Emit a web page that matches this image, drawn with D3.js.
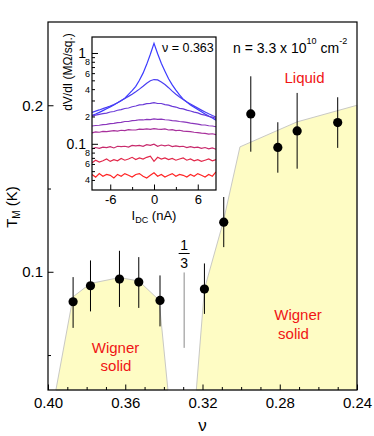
<!DOCTYPE html>
<html>
<head>
<meta charset="utf-8">
<script src="https://cdn.jsdelivr.net/npm/d3@7"></script>
<style>
  body { margin: 0; background: #fff; }
  svg text { font-family: "Liberation Sans", Arial, Helvetica, sans-serif; fill: #000; }
</style>
</head>
<body>
<svg id="chart" width="374" height="436"></svg>
<script>
// ---- main panel: melting temperature vs filling factor
const nu     = [0.387, 0.378, 0.363, 0.353, 0.342, 0.319, 0.309, 0.295, 0.281, 0.271, 0.250];
const tm     = [0.082, 0.0916, 0.0956, 0.0938, 0.0828, 0.0896, 0.1298, 0.1948, 0.1747, 0.1846, 0.1896];
const tmLow  = [0.0663, 0.0762, 0.0789, 0.0783, 0.0672, 0.0747, 0.1148, 0.1721, 0.1595, 0.1619, 0.1744];
const tmHigh = [0.0968, 0.1068, 0.1126, 0.1088, 0.0978, 0.105, 0.1449, 0.2174, 0.1898, 0.2074, 0.2048];

// shaded "Wigner solid" regions (outline points)
const leftSolidNu  = [0.3959, 0.387, 0.378, 0.363, 0.353, 0.3425, 0.3379];
const leftSolidT   = [0.029, 0.085, 0.093, 0.0965, 0.0945, 0.083, 0.029];
const rightSolidNu = [0.3232, 0.319, 0.3093, 0.3006, 0.2711, 0.24, 0.24];
const rightSolidT  = [0.029, 0.0896, 0.1298, 0.175, 0.19, 0.2, 0.029];

const xMajor = [0.40, 0.36, 0.32, 0.28, 0.24];
const xMajorLabels = ["0.40", "0.36", "0.32", "0.28", "0.24"];
const xMinor = [0.39, 0.38, 0.37, 0.35, 0.34, 0.33, 0.31, 0.30, 0.29, 0.27, 0.26, 0.25];
const yMajor = [0.1, 0.2];
const yMajorLabels = ["0.1", "0.2"];
const yMinor = [0.05, 0.15];

// 1/3 marker
const thirdNu = 0.3295;
const thirdT = [0.0543, 0.0996];

// ---- inset: dV/dI vs I_DC at nu = 0.363
const idc = [-8.5, -8, -7.5, -7, -6.5, -6, -5.5, -5, -4.5, -4, -3.5, -3, -2.5, -2, -1.5, -1, -0.5, 0,
             0.5, 1, 1.5, 2, 2.5, 3, 3.5, 4, 4.5, 5, 5.5, 6, 6.5, 7, 7.5, 8, 8.5];
const curve1 = [0.205, 0.213, 0.222, 0.232, 0.243, 0.255, 0.268, 0.283, 0.298, 0.318, 0.35, 0.385, 0.43, 0.50, 0.60, 0.75, 0.97, 1.28,
                0.98, 0.77, 0.63, 0.52, 0.445, 0.39, 0.345, 0.31, 0.288, 0.268, 0.252, 0.238, 0.225, 0.213, 0.202, 0.192, 0.182];
const curve2 = [0.222, 0.229, 0.236, 0.244, 0.252, 0.261, 0.271, 0.283, 0.300, 0.316, 0.333, 0.352, 0.374, 0.40, 0.43, 0.465, 0.495, 0.51,
                0.505, 0.48, 0.45, 0.415, 0.38, 0.352, 0.328, 0.307, 0.289, 0.274, 0.26, 0.247, 0.235, 0.224, 0.214, 0.205, 0.197];
const curve3 = [0.203, 0.207, 0.211, 0.215, 0.218, 0.224, 0.227, 0.234, 0.238, 0.245, 0.248, 0.256, 0.261, 0.268, 0.270, 0.277, 0.279, 0.284,
                0.278, 0.278, 0.270, 0.267, 0.258, 0.254, 0.246, 0.242, 0.235, 0.230, 0.223, 0.219, 0.211, 0.207, 0.200, 0.197, 0.190];
const curve4 = [0.157, 0.159, 0.160, 0.163, 0.164, 0.167, 0.168, 0.171, 0.172, 0.176, 0.176, 0.180, 0.181, 0.184, 0.183, 0.186, 0.185, 0.188,
                0.186, 0.187, 0.184, 0.183, 0.180, 0.179, 0.176, 0.174, 0.172, 0.169, 0.167, 0.165, 0.162, 0.161, 0.158, 0.157, 0.154];
const curve5 = [0.132, 0.135, 0.134, 0.137, 0.136, 0.138, 0.140, 0.138, 0.141, 0.140, 0.143, 0.142, 0.142, 0.145, 0.144, 0.146, 0.144, 0.147,
                0.145, 0.144, 0.146, 0.142, 0.143, 0.140, 0.141, 0.138, 0.137, 0.136, 0.134, 0.133, 0.131, 0.130, 0.128, 0.129, 0.126];
const curve6 = [0.088, 0.091, 0.089, 0.092, 0.091, 0.093, 0.090, 0.094, 0.093, 0.094, 0.092, 0.096, 0.095, 0.096, 0.094, 0.098, 0.096, 0.099,
                0.094, 0.097, 0.095, 0.097, 0.093, 0.095, 0.093, 0.094, 0.091, 0.093, 0.091, 0.092, 0.089, 0.091, 0.088, 0.090, 0.087];
const curve7 = [0.062, 0.066, 0.063, 0.065, 0.068, 0.064, 0.067, 0.065, 0.069, 0.066, 0.068, 0.071, 0.067, 0.070, 0.068, 0.071, 0.073, 0.064,
                0.071, 0.068, 0.070, 0.067, 0.069, 0.066, 0.068, 0.070, 0.066, 0.068, 0.065, 0.067, 0.064, 0.066, 0.068, 0.065, 0.067];
const curve8 = [0.046, 0.043, 0.047, 0.044, 0.046, 0.045, 0.042, 0.046, 0.044, 0.047, 0.045, 0.043, 0.046, 0.047, 0.044, 0.042, 0.045, 0.048,
                0.044, 0.046, 0.043, 0.045, 0.047, 0.044, 0.046, 0.045, 0.043, 0.046, 0.044, 0.047, 0.045, 0.043, 0.046, 0.044, 0.049];
const curves = [curve1, curve2, curve3, curve4, curve5, curve6, curve7, curve8];
const curveColors = ["#3b3bff", "#4a3ef2", "#6a3ad8", "#8a36bc", "#a8309c", "#c82a6c", "#e2284a", "#ff2424"];

const insetXTicks = [-6, 0, 6];
const insetXMinor = [-3, 3];
const insetYMajor = [0.1, 1];
const insetYMinor = [0.04, 0.05, 0.06, 0.07, 0.08, 0.09, 0.2, 0.3, 0.4, 0.5, 0.6, 0.7, 0.8, 0.9];
const insetYSmallLabels = [0.04, 0.06, 0.08, 0.2, 0.4, 0.6, 0.8];

// ---- layout
const plotLeft = 48, plotRight = 357, plotTop = 22, plotBottom = 390;
const svg = d3.select("#chart");

const x = d3.scaleLinear().domain([0.40, 0.24]).range([plotLeft, plotRight]);
const y = d3.scaleLinear().domain([0.029, 0.25]).range([plotBottom, plotTop]);

// shaded regions
const poly = d3.line().x(d => x(d[0])).y(d => y(d[1]));
[[leftSolidNu, leftSolidT], [rightSolidNu, rightSolidT]].forEach(function(p) {
  svg.append("path")
    .attr("d", poly(p[0].map((v, i) => [v, p[1][i]])) + "Z")
    .attr("fill", "#fefcc4")
    .attr("stroke", "#c9c9c4")
    .attr("stroke-width", 1);
});

// 1/3 marker
svg.append("line")
  .attr("x1", x(thirdNu)).attr("x2", x(thirdNu))
  .attr("y1", y(thirdT[0])).attr("y2", y(thirdT[1]))
  .attr("stroke", "#8a8a8a").attr("stroke-width", 1);
svg.append("text").attr("x", x(thirdNu)).attr("y", 250)
  .attr("text-anchor", "middle").style("font-size", "14px").text("1");
svg.append("line")
  .attr("x1", x(thirdNu) - 5.5).attr("x2", x(thirdNu) + 5.5)
  .attr("y1", 253.5).attr("y2", 253.5)
  .attr("stroke", "#000").attr("stroke-width", 1);
svg.append("text").attr("x", x(thirdNu)).attr("y", 268)
  .attr("text-anchor", "middle").style("font-size", "14px").text("3");

// error bars and points
const pts = nu.map((v, i) => ({nu: v, t: tm[i], lo: tmLow[i], hi: tmHigh[i]}));
svg.selectAll(".err").data(pts).enter().append("line")
  .attr("class", "err")
  .attr("x1", d => x(d.nu)).attr("x2", d => x(d.nu))
  .attr("y1", d => y(d.lo)).attr("y2", d => y(d.hi))
  .attr("stroke", "#000").attr("stroke-width", 1);
svg.selectAll(".pt").data(pts).enter().append("circle")
  .attr("class", "pt")
  .attr("cx", d => x(d.nu)).attr("cy", d => y(d.t))
  .attr("r", 4.6).attr("fill", "#000");

// axes (ticks inward)
const xAxis = svg.append("g").attr("transform", "translate(0," + plotBottom + ")")
  .call(d3.axisBottom(x).tickValues(xMajor).tickSize(-5.5).tickPadding(7)
        .tickFormat((d, i) => xMajorLabels[i]));
const xAxisMinor = svg.append("g").attr("transform", "translate(0," + plotBottom + ")")
  .call(d3.axisBottom(x).tickValues(xMinor).tickSize(-3).tickFormat(""));
const yAxis = svg.append("g").attr("transform", "translate(" + plotLeft + ",0)")
  .call(d3.axisLeft(y).tickValues(yMajor).tickSize(-5.5).tickPadding(5)
        .tickFormat((d, i) => yMajorLabels[i]));
const yAxisMinor = svg.append("g").attr("transform", "translate(" + plotLeft + ",0)")
  .call(d3.axisLeft(y).tickValues(yMinor).tickSize(-3).tickFormat(""));
[xAxis, xAxisMinor, yAxis, yAxisMinor].forEach(function(g) {
  g.select(".domain").remove();
  g.selectAll("text").style("font-size", "15px").attr("fill", "#000");
  g.selectAll("line").attr("stroke", "#000");
});

// frame
svg.append("rect")
  .attr("x", plotLeft).attr("y", plotTop)
  .attr("width", plotRight - plotLeft).attr("height", plotBottom - plotTop)
  .attr("fill", "none").attr("stroke", "#000").attr("stroke-width", 1.2);

// axis titles
svg.append("text").attr("x", (plotLeft + plotRight) / 2).attr("y", 431)
  .attr("text-anchor", "middle").style("font-size", "17px").text("ν");
const yTitle = svg.append("text")
  .attr("transform", "translate(17,207) rotate(-90)")
  .attr("text-anchor", "middle").style("font-size", "15px");
yTitle.append("tspan").text("T");
yTitle.append("tspan").attr("dy", 3).style("font-size", "10px").text("M");
yTitle.append("tspan").attr("dy", -3).text(" (K)");

// annotations
const nLabel = svg.append("text").attr("x", 233).attr("y", 53).style("font-size", "14px");
nLabel.append("tspan").text("n = 3.3 x 10");
nLabel.append("tspan").attr("dy", -9).style("font-size", "9px").text("10");
nLabel.append("tspan").attr("dy", 9).text(" cm");
nLabel.append("tspan").attr("dy", -9).style("font-size", "9px").text("-2");

const red = "#f01515";
svg.append("text").attr("x", 304.5).attr("y", 83).attr("text-anchor", "middle")
  .style("font-size", "15px").style("fill", red).text("Liquid");
[[115.5, 352.5, "Wigner"], [116, 371, "solid"], [298, 319.5, "Wigner"], [293.5, 338.5, "solid"]].forEach(function(t) {
  svg.append("text").attr("x", t[0]).attr("y", t[1]).attr("text-anchor", "middle")
    .style("font-size", "15px").style("fill", red).text(t[2]);
});

// ---- inset
const ix = d3.scaleLinear().domain([-8.5, 8.5]).range([92, 216]);
const iy = d3.scaleLog().domain([0.031, 1.5]).range([190, 37]);

svg.append("rect").attr("x", 92).attr("y", 37).attr("width", 124).attr("height", 153)
  .attr("fill", "#fff");
svg.append("clipPath").attr("id", "insetClip")
  .append("rect").attr("x", 92).attr("y", 37).attr("width", 124).attr("height", 153);

const line = d3.line().x((d, i) => ix(idc[i])).y(d => iy(d));
svg.append("g").attr("clip-path", "url(#insetClip)")
  .selectAll("path").data(curves).enter().append("path")
  .attr("d", d => line(d))
  .attr("fill", "none")
  .attr("stroke", (d, i) => curveColors[i])
  .attr("stroke-width", 1.2);

const ixAxis = svg.append("g").attr("transform", "translate(0,190)")
  .call(d3.axisBottom(ix).tickValues(insetXTicks).tickSize(-5.5).tickPadding(5)
        .tickFormat(d => d < 0 ? "-" + Math.abs(d) : String(d)));
const ixMinor = svg.append("g").attr("transform", "translate(0,190)")
  .call(d3.axisBottom(ix).tickValues(insetXMinor).tickSize(-3).tickFormat(""));
const iyAxis = svg.append("g").attr("transform", "translate(92,0)")
  .call(d3.axisLeft(iy).tickValues(insetYMajor).tickSize(-6).tickPadding(6)
        .tickFormat(d => d === 1 ? "1" : "0.1"));
const iyMinor = svg.append("g").attr("transform", "translate(92,0)")
  .call(d3.axisLeft(iy).tickValues(insetYMinor).tickSize(-3).tickPadding(2)
        .tickFormat(d => insetYSmallLabels.indexOf(d) >= 0 ? String(Math.round(d * (d < 0.1 ? 100 : 10))) : ""));
[ixAxis, ixMinor, iyAxis, iyMinor].forEach(function(g) {
  g.select(".domain").remove();
  g.selectAll("line").attr("stroke", "#000");
  g.selectAll("text").attr("fill", "#000");
});
ixAxis.selectAll("text").style("font-size", "13px");
iyAxis.selectAll("text").style("font-size", "14px");
iyMinor.selectAll("text").style("font-size", "9px");

svg.append("rect").attr("x", 92).attr("y", 37).attr("width", 124).attr("height", 153)
  .attr("fill", "none").attr("stroke", "#000").attr("stroke-width", 1.2);

svg.append("text").attr("x", 162).attr("y", 51.5).style("font-size", "12.5px").text("ν = 0.363");

const iTitle = svg.append("text").attr("x", 154).attr("y", 220)
  .attr("text-anchor", "middle").style("font-size", "13px");
iTitle.append("tspan").text("I");
iTitle.append("tspan").attr("dy", 3).style("font-size", "9px").text("DC");
iTitle.append("tspan").attr("dy", -3).text(" (nA)");

svg.append("text").attr("transform", "translate(72,72) rotate(-90)")
  .attr("text-anchor", "middle").style("font-size", "12px").text("dV/dI (MΩ/sq.)");
</script>
</body>
</html>
